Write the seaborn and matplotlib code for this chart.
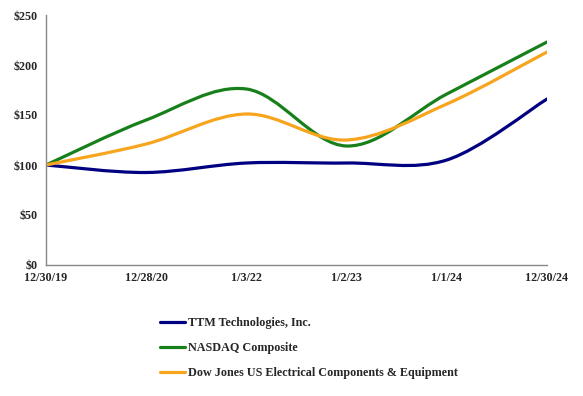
import matplotlib
matplotlib.use("Agg")
import matplotlib.pyplot as plt
import seaborn as sns
import numpy as np
from matplotlib.path import Path
from matplotlib.patches import PathPatch
from matplotlib.lines import Line2D

dates = ["12/30/19", "12/28/20", "1/3/22", "1/2/23", "1/1/24", "12/30/24"]
ttm = [100, 92.5, 102, 102, 105, 166]
nasdaq = [100, 145, 176, 119, 171, 223]
dowjones = [100, 121, 151, 125, 161, 213]
series_names = ["TTM Technologies, Inc.", "NASDAQ Composite",
                "Dow Jones US Electrical Components & Equipment"]
colors = ["#000080", "#18801A", "#F8A51E"]
y_ticks = [0, 50, 100, 150, 200, 250]

sns.set_style("white")
plt.rcParams["font.family"] = ["Liberation Serif", "DejaVu Serif"]
plt.rcParams["font.weight"] = "bold"

fig = plt.figure(figsize=(5.83, 3.96), dpi=100)
ax = fig.add_axes([46 / 583, 1 - 265 / 396, (547 - 46) / 583, 250 / 396])

x = np.arange(len(dates))


def smooth_path(xs, ys):
    pts = np.column_stack([xs, ys]).astype(float)
    n = len(pts)
    verts = [pts[0]]
    codes = [Path.MOVETO]
    for i in range(n - 1):
        p0 = pts[i - 1] if i > 0 else pts[i]
        p1 = pts[i]
        p2 = pts[i + 1]
        p3 = pts[i + 2] if i + 2 < n else pts[i + 1]
        c1 = p1 + (p2 - p0) / 6.0
        c2 = p2 - (p3 - p1) / 6.0
        verts += [c1, c2, p2]
        codes += [Path.CURVE4] * 3
    return Path(verts, codes)


handles = []
for vals, name, col in zip([ttm, nasdaq, dowjones], series_names, colors):
    patch = PathPatch(smooth_path(x, vals), facecolor="none", edgecolor=col,
                      lw=2.3, capstyle="round", joinstyle="round")
    ax.add_patch(patch)
    handles.append(Line2D([], [], color=col, lw=2.3, label=name))

ax.set_xlim(0, len(dates) - 1)
ax.set_ylim(0, 250)
ax.set_xticks(x)
ax.set_xticklabels(dates)
ax.set_yticks(y_ticks)
ax.set_yticklabels([f"${v}" for v in y_ticks])

for s in ["top", "right"]:
    ax.spines[s].set_visible(False)
for s in ["left", "bottom"]:
    ax.spines[s].set_color("#888888")
    ax.spines[s].set_linewidth(1.0)
ax.tick_params(axis="both", which="both", direction="out", length=3,
               width=0.8, color="#888888", labelsize=8.7, pad=2)
ax.tick_params(axis="y", pad=3)
for lab in ax.get_xticklabels() + ax.get_yticklabels():
    lab.set_fontweight("bold")
ax.grid(False)

leg = fig.legend(handles=handles, loc="upper left",
                 bbox_to_anchor=(155 / 583, 1 - 312 / 396),
                 frameon=False, fontsize=8.7, handlelength=2.1,
                 handletextpad=0.25, labelspacing=1.1, borderaxespad=0)
for t in leg.get_texts():
    t.set_fontweight("bold")

fig.savefig("out.png", dpi=100)
